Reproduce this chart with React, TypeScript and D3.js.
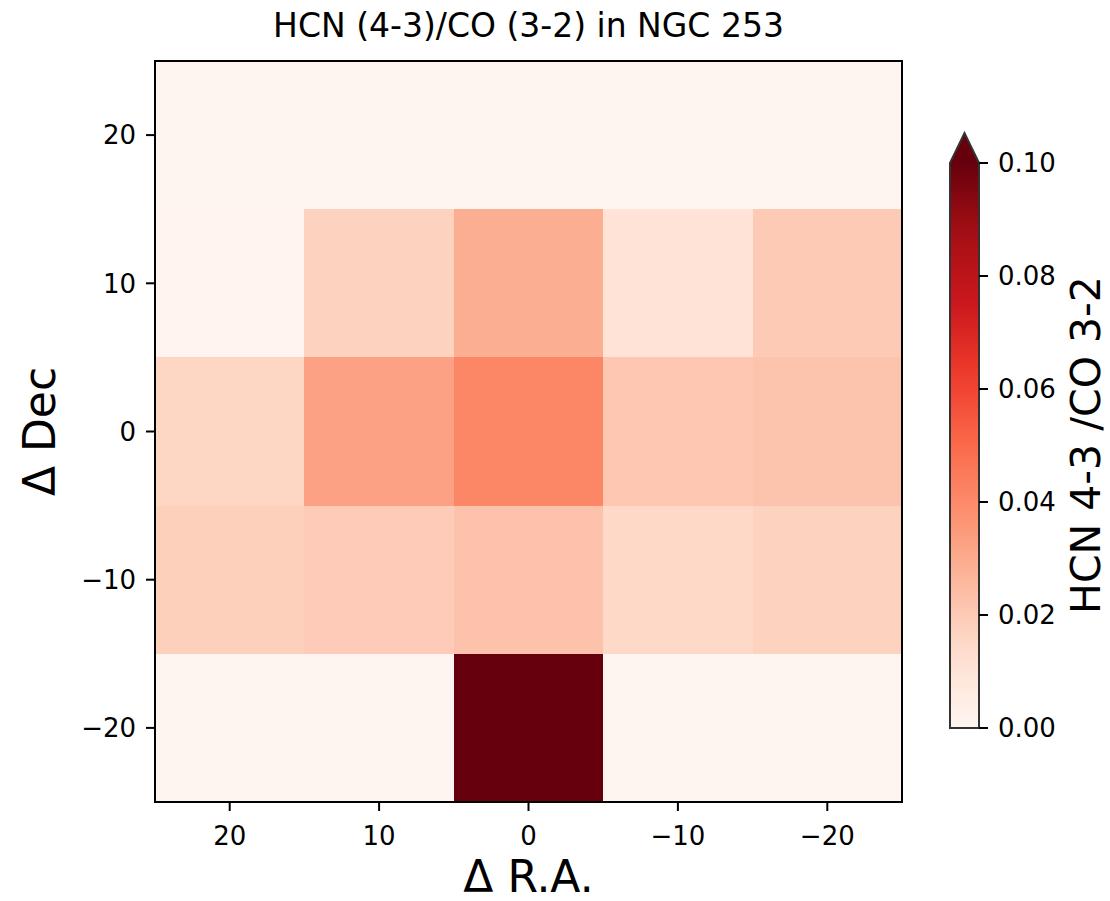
import React from "react";
import * as d3 from "d3";

const raOffsets = [20, 10, 0, -10, -20];
const decOffsets = [20, 10, 0, -10, -20];
// rows follow decOffsets, columns follow raOffsets
const ratioRows = [
  [0.0, 0.0, 0.0, 0.0, 0.0],
  [0.0005, 0.017, 0.029, 0.011, 0.02],
  [0.016, 0.033, 0.041, 0.021, 0.022],
  [0.018, 0.0195, 0.0225, 0.015, 0.017],
  [0.0, 0.0, 0.12, 0.0, 0.0],
];
const xTicks = [20, 10, 0, -10, -20];
const yTicks = [20, 10, 0, -10, -20];
const cbTicks = [0.0, 0.02, 0.04, 0.06, 0.08, 0.1];
const redsStops = [
  "#fff5f0", "#fee0d2", "#fcbba1", "#fc9272", "#fb6a4a",
  "#ef3b2c", "#cb181d", "#a50f15", "#67000d",
];

const W = 1110;
const H = 901;
const FONT = "'DejaVu Sans', sans-serif";

export default function App() {
  const left = 155, right = 902, top = 61, bottom = 802;
  const x = d3.scaleLinear().domain([25, -25]).range([left, right]);
  const y = d3.scaleLinear().domain([25, -25]).range([top, bottom]);
  const vmin = 0, vmax = 0.1;
  const reds = d3
    .scaleLinear<string>()
    .domain(redsStops.map((_, i) => i / (redsStops.length - 1)))
    .range(redsStops)
    .interpolate(d3.interpolateRgb)
    .clamp(true);
  const color = (v: number) => (v > vmax ? redsStops[redsStops.length - 1] : reds((v - vmin) / (vmax - vmin)));

  const cbL = 950, cbR = 979, cbTop = 163, cbBot = 728, cbTip = 133;
  const cy = d3.scaleLinear().domain([vmin, vmax]).range([cbBot, cbTop]);

  const cells: JSX.Element[] = [];
  ratioRows.forEach((row, ri) => {
    row.forEach((v, ci) => {
      const ra = raOffsets[ci];
      const dec = decOffsets[ri];
      const x0 = x(ra + 5), x1 = x(ra - 5);
      const y0 = y(dec + 5), y1 = y(dec - 5);
      cells.push(
        <rect key={`${ri}-${ci}`} x={x0} y={y0} width={x1 - x0} height={y1 - y0} fill={color(v)} shapeRendering="crispEdges" />
      );
    });
  });

  const gradStops = d3.range(0, 1.0001, 0.05).map((t) => ({ t, c: reds(t) }));

  return (
    <svg width={W} height={H} style={{ position: "absolute", left: 0, top: 0, background: "#fff" }} fontFamily={FONT}>
      <defs>
        <linearGradient id="cbg" x1="0" y1="1" x2="0" y2="0">
          {gradStops.map((s, i) => (
            <stop key={i} offset={s.t} stopColor={s.c} />
          ))}
        </linearGradient>
      </defs>
      <rect width={W} height={H} fill="#fff" />
      <text x={(left + right) / 2} y={37} textAnchor="middle" fontSize={33} fill="#000">
        HCN (4-3)/CO (3-2) in NGC 253
      </text>
      {cells}
      <rect x={left} y={top} width={right - left} height={bottom - top} fill="none" stroke="#000" strokeWidth={2} />
      {xTicks.map((t) => (
        <g key={`xt${t}`}>
          <line x1={x(t)} x2={x(t)} y1={bottom} y2={bottom + 9} stroke="#000" strokeWidth={2} />
          <text x={x(t)} y={845} textAnchor="middle" fontSize={26} fill="#000">
            {t < 0 ? `\u2212${Math.abs(t)}` : `${t}`}
          </text>
        </g>
      ))}
      {yTicks.map((t) => (
        <g key={`yt${t}`}>
          <line x1={left - 9} x2={left} y1={y(t)} y2={y(t)} stroke="#000" strokeWidth={2} />
          <text x={left - 19} y={y(t)} dy="0.36em" textAnchor="end" fontSize={26} fill="#000">
            {t < 0 ? `\u2212${Math.abs(t)}` : `${t}`}
          </text>
        </g>
      ))}
      <text x={(left + right) / 2} y={892} textAnchor="middle" fontSize={44} fill="#000">
        Δ R.A.
      </text>
      <text transform={`translate(55, ${(top + bottom) / 2}) rotate(-90)`} textAnchor="middle" fontSize={44} fill="#000">
        Δ Dec
      </text>
      {/* colorbar */}
      <rect x={cbL} y={cbTop} width={cbR - cbL} height={cbBot - cbTop} fill="url(#cbg)" />
      <path d={`M${cbL},${cbTop} L${(cbL + cbR) / 2},${cbTip} L${cbR},${cbTop} Z`} fill={redsStops[redsStops.length - 1]} />
      <path
        d={`M${cbL},${cbBot} L${cbL},${cbTop} L${(cbL + cbR) / 2},${cbTip} L${cbR},${cbTop} L${cbR},${cbBot} Z`}
        fill="none"
        stroke="#333"
        strokeWidth={2}
      />
      {cbTicks.map((t) => (
        <g key={`ct${t}`}>
          <line x1={cbR} x2={cbR + 9} y1={cy(t)} y2={cy(t)} stroke="#000" strokeWidth={2} />
          <text x={cbR + 19} y={cy(t)} dy="0.36em" fontSize={26} fill="#000">
            {t.toFixed(2)}
          </text>
        </g>
      ))}
      <text transform={`translate(1100, 445) rotate(-90)`} textAnchor="middle" fontSize={41} fill="#000">
        HCN 4-3 /CO 3-2
      </text>
    </svg>
  );
}
